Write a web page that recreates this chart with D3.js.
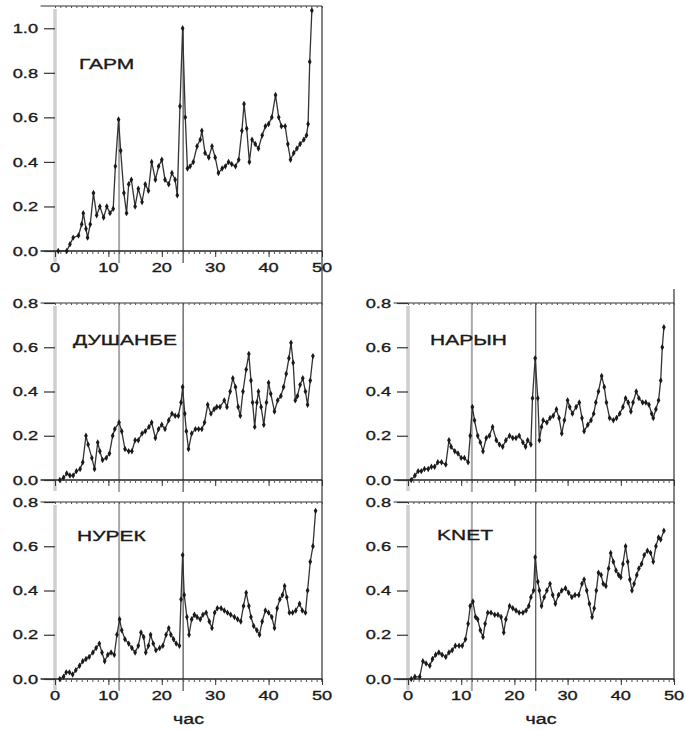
<!DOCTYPE html>
<html>
<head>
<meta charset="utf-8">
<script src="https://cdn.jsdelivr.net/npm/d3@7"></script>
<style>
  html, body { margin: 0; padding: 0; background: #fff; }
  svg { display: block; }
  text { font-family: "Liberation Sans", Arial, sans-serif; fill: #1a1a1a; stroke: #1a1a1a; stroke-width: 0.35px; }
</style>
</head>
<body>
<svg id="chart" width="685" height="731"></svg>
<script>
// Hourly amplitude series per station: [hour, value]
const garm = [[0.6,0],[2.2,0],[2.8,0.03],[3.4,0.06],[4.4,0.07],[5.0,0.12],[5.3,0.17],[5.8,0.10],[6.1,0.06],[6.6,0.12],
  [7.2,0.26],[7.8,0.16],[8.4,0.20],[9.1,0.15],[9.7,0.20],[10.3,0.17],[10.9,0.19],[11.3,0.38],[11.9,0.59],[12.3,0.45],
  [12.9,0.26],[13.4,0.17],[13.8,0.30],[14.3,0.32],[15.0,0.20],[15.6,0.28],[16.3,0.22],[16.9,0.30],[17.5,0.27],[18.1,0.40],
  [18.8,0.32],[19.4,0.38],[20.0,0.41],[20.6,0.32],[21.3,0.30],[21.9,0.35],[22.5,0.32],[22.9,0.25],[23.4,0.65],[23.9,1.00],
  [24.4,0.60],[24.8,0.37],[25.3,0.38],[25.9,0.40],[26.6,0.47],[27.2,0.50],[27.5,0.54],[28.1,0.44],[28.8,0.42],[29.4,0.47],
  [30.0,0.42],[30.6,0.35],[31.3,0.37],[31.9,0.38],[32.5,0.40],[33.1,0.39],[33.8,0.38],[34.4,0.41],[35.0,0.54],[35.4,0.66],
  [35.9,0.55],[36.4,0.40],[36.9,0.50],[37.5,0.48],[38.1,0.46],[38.8,0.52],[39.4,0.56],[40.0,0.57],[40.6,0.60],[41.3,0.70],
  [41.9,0.60],[42.4,0.56],[43.1,0.56],[43.6,0.48],[44.1,0.41],[44.7,0.44],[45.3,0.46],[45.9,0.48],[46.6,0.50],[47.1,0.52],
  [47.4,0.57],[47.7,0.85],[48.1,1.08]];

const dushanbe = [[0.9,0.00],[1.6,0.01],[2.2,0.03],[2.8,0.02],[3.4,0.02],[4.0,0.04],[4.7,0.05],[5.2,0.08],[5.8,0.20],[6.2,0.16],
  [6.9,0.10],[7.4,0.05],[8.0,0.17],[8.4,0.13],[8.9,0.09],[9.6,0.10],[10.2,0.12],[10.8,0.20],[11.2,0.23],[12.0,0.26],
  [12.5,0.22],[13.1,0.14],[13.8,0.13],[14.4,0.13],[15.0,0.18],[15.6,0.18],[16.3,0.21],[16.9,0.22],[17.6,0.24],[18.1,0.26],
  [18.8,0.19],[19.4,0.23],[20.0,0.25],[20.6,0.23],[21.3,0.27],[21.9,0.30],[22.5,0.29],[23.1,0.29],[23.6,0.35],[23.9,0.42],
  [24.3,0.30],[24.6,0.22],[25.0,0.14],[25.6,0.21],[26.3,0.23],[26.9,0.23],[27.5,0.23],[28.0,0.26],[28.6,0.34],[29.2,0.30],
  [29.8,0.32],[30.3,0.33],[30.9,0.33],[31.7,0.36],[32.2,0.33],[32.8,0.40],[33.3,0.46],[33.8,0.42],[34.3,0.33],[34.7,0.29],
  [35.2,0.40],[35.8,0.50],[36.3,0.57],[36.7,0.45],[37.0,0.35],[37.4,0.24],[37.8,0.35],[38.1,0.40],[38.6,0.33],[39.1,0.25],
  [39.6,0.35],[40.0,0.44],[40.4,0.39],[41.1,0.31],[41.7,0.36],[42.3,0.38],[42.8,0.42],[43.3,0.48],[43.8,0.55],[44.2,0.62],
  [44.6,0.53],[45.0,0.36],[45.4,0.38],[45.9,0.43],[46.4,0.46],[46.9,0.40],[47.3,0.34],[47.8,0.45],[48.3,0.56]];

const naryn = [[0.6,0.00],[1.3,0.02],[1.9,0.04],[2.5,0.04],[3.1,0.05],[3.8,0.05],[4.4,0.06],[5.0,0.06],[5.6,0.08],[6.3,0.08],
  [7.1,0.07],[7.7,0.18],[8.1,0.15],[8.8,0.13],[9.4,0.12],[10.0,0.10],[10.6,0.10],[11.3,0.08],[11.7,0.20],[12.1,0.33],
  [12.5,0.27],[13.1,0.20],[13.6,0.17],[14.1,0.13],[14.7,0.19],[15.3,0.20],[15.9,0.24],[16.6,0.18],[17.2,0.16],[17.8,0.15],
  [18.4,0.18],[19.1,0.20],[19.7,0.19],[20.3,0.19],[20.9,0.20],[21.6,0.17],[22.1,0.15],[22.5,0.18],[23.1,0.16],[23.4,0.37],
  [23.9,0.55],[24.4,0.37],[24.7,0.18],[25.1,0.24],[25.4,0.27],[26.1,0.26],[26.7,0.28],[27.3,0.29],[27.9,0.32],[28.4,0.28],
  [28.9,0.21],[29.4,0.27],[30.0,0.36],[30.4,0.33],[30.9,0.30],[31.6,0.33],[32.2,0.35],[32.7,0.28],[33.1,0.22],[33.8,0.25],
  [34.4,0.27],[34.9,0.30],[35.3,0.35],[35.8,0.40],[36.4,0.47],[36.9,0.42],[37.3,0.35],[37.9,0.28],[38.6,0.27],[39.2,0.28],
  [39.8,0.30],[40.4,0.33],[40.9,0.37],[41.4,0.35],[41.9,0.31],[42.3,0.35],[42.9,0.40],[43.4,0.37],[44.1,0.35],[44.7,0.35],
  [45.3,0.34],[45.8,0.30],[46.1,0.28],[46.6,0.32],[47.1,0.36],[47.5,0.45],[47.8,0.60],[48.1,0.69]];

const nurek = [[0.9,0.00],[1.6,0.01],[2.1,0.03],[2.7,0.03],[3.3,0.02],[3.9,0.04],[4.6,0.06],[5.2,0.08],[5.8,0.09],[6.4,0.10],
  [7.1,0.12],[7.7,0.14],[8.3,0.16],[8.8,0.12],[9.3,0.08],[9.9,0.11],[10.5,0.12],[11.1,0.11],[11.6,0.20],[12.1,0.27],
  [12.5,0.22],[13.1,0.18],[13.8,0.16],[14.4,0.14],[15.0,0.12],[15.6,0.15],[16.1,0.21],[16.6,0.19],[17.0,0.12],[17.5,0.15],
  [17.9,0.20],[18.4,0.16],[18.9,0.13],[19.6,0.14],[20.2,0.15],[20.8,0.20],[21.3,0.23],[21.7,0.20],[22.2,0.18],[22.7,0.16],
  [23.3,0.15],[23.6,0.36],[23.9,0.56],[24.2,0.38],[24.7,0.28],[25.1,0.20],[25.6,0.27],[26.1,0.29],[26.6,0.28],[27.2,0.27],
  [27.7,0.29],[28.3,0.30],[28.9,0.26],[29.4,0.23],[29.9,0.30],[30.4,0.32],[31.1,0.32],[31.7,0.31],[32.3,0.30],[32.9,0.29],
  [33.6,0.28],[34.2,0.27],[34.8,0.26],[35.3,0.33],[35.8,0.39],[36.3,0.33],[36.7,0.28],[37.2,0.24],[37.8,0.22],[38.3,0.20],
  [38.8,0.26],[39.4,0.31],[40.0,0.30],[40.6,0.28],[41.1,0.23],[41.6,0.32],[42.1,0.36],[42.6,0.38],[43.0,0.42],[43.4,0.37],
  [43.9,0.30],[44.5,0.30],[45.1,0.31],[45.8,0.34],[46.3,0.31],[46.9,0.30],[47.3,0.40],[47.8,0.53],[48.3,0.60],[48.8,0.76]];

const knet = [[0.6,0.00],[1.3,0.01],[2.2,0.01],[2.8,0.08],[3.4,0.07],[4.1,0.06],[4.6,0.09],[5.2,0.11],[5.8,0.12],[6.4,0.11],
  [7.1,0.10],[7.7,0.12],[8.3,0.13],[8.9,0.15],[9.6,0.15],[10.2,0.15],[10.8,0.18],[11.3,0.25],[11.7,0.33],[12.2,0.35],
  [12.7,0.28],[13.1,0.27],[13.6,0.22],[14.1,0.19],[14.5,0.25],[15.0,0.30],[15.6,0.30],[16.3,0.29],[16.9,0.29],[17.5,0.28],
  [18.0,0.21],[18.4,0.27],[19.1,0.33],[19.7,0.32],[20.3,0.31],[20.9,0.30],[21.6,0.30],[22.2,0.31],[22.7,0.33],[23.1,0.37],
  [23.6,0.40],[23.9,0.55],[24.4,0.44],[24.7,0.40],[25.1,0.33],[25.6,0.37],[26.1,0.40],[26.7,0.43],[27.2,0.38],[27.7,0.34],
  [28.3,0.38],[28.9,0.40],[29.6,0.41],[30.2,0.39],[30.8,0.37],[31.4,0.38],[32.1,0.38],[32.7,0.43],[33.1,0.45],[33.6,0.40],
  [34.1,0.34],[34.6,0.28],[35.0,0.32],[35.4,0.40],[35.8,0.48],[36.3,0.47],[36.7,0.43],[37.2,0.42],[37.7,0.50],[38.1,0.57],
  [38.6,0.53],[39.1,0.49],[39.6,0.47],[40.0,0.46],[40.4,0.52],[40.9,0.60],[41.3,0.53],[41.7,0.45],[42.1,0.40],[42.5,0.43],
  [43.0,0.47],[43.4,0.50],[43.9,0.52],[44.4,0.56],[45.0,0.58],[45.6,0.57],[46.1,0.53],[46.6,0.60],[47.1,0.64],[47.5,0.63],
  [48.1,0.67]];

// Axis ticks and labels
const xTickValues = [0, 10, 20, 30, 40, 50];
const yTicksTall = [0, 0.2, 0.4, 0.6, 0.8, 1.0];
const yTicksShort = [0, 0.2, 0.4, 0.6, 0.8];
const markerHours = [12, 24];
const xTitle = "час";

// Panel layout: column pixel extents and vertical placement
const columns = [
  { x0: 55,  x50: 322 },
  { x0: 408, x50: 674 }
];

const panels = [
  { name: "ГАРМ",    data: garm,     col: 0, top: 6,   bottom: 251, yMax: 1.1, yTicks: yTicksTall,  xLabels: true,  title: false, lx: 24, ly: 68.5, markersToData: true },
  { name: "ДУШАНБЕ", data: dushanbe, col: 0, top: 303, bottom: 480, yMax: 0.8, yTicks: yTicksShort, xLabels: false, title: false, lx: 18, ly: 345 },
  { name: "НАРЫН",   data: naryn,    col: 1, top: 303, bottom: 480, yMax: 0.8, yTicks: yTicksShort, xLabels: false, title: false, lx: 22, ly: 345 },
  { name: "НУРЕК",   data: nurek,    col: 0, top: 502, bottom: 679, yMax: 0.8, yTicks: yTicksShort, xLabels: true,  title: true,  lx: 22, ly: 541 },
  { name: "KNET",    data: knet,     col: 1, top: 502, bottom: 679, yMax: 0.8, yTicks: yTicksShort, xLabels: true,  title: true,  lx: 29, ly: 540 }
];

const SX = 1.4; // horizontal stretch of the lettering
const svg = d3.select("#chart");
svg.append("rect").attr("width", 685).attr("height", 731).attr("fill", "#fff");

function label(g, x, y, str, size, anchor) {
  g.append("text")
    .attr("transform", `translate(${x},${y}) scale(${SX},1)`)
    .attr("text-anchor", anchor)
    .attr("font-size", size)
    .text(str);
}

// Right edges run continuously down each column
const colSpan = [
  { top: 6,   bottom: 682 },
  { top: 289, bottom: 682 }
];
columns.forEach((c, i) => {
  svg.append("line")
    .attr("x1", c.x50).attr("x2", c.x50)
    .attr("y1", colSpan[i].top).attr("y2", colSpan[i].bottom)
    .attr("stroke", "#333").attr("stroke-width", 1.2);
});

panels.forEach(p => {
  const c = columns[p.col];
  const x = d3.scaleLinear().domain([0, 50]).range([c.x0, c.x50]);
  const y = d3.scaleLinear().domain([0, p.yMax]).range([p.bottom, p.top]);
  const g = svg.append("g");
  const left = x(-2.7);

  // zero-hour reference line
  g.append("line")
    .attr("x1", x(0)).attr("x2", x(0))
    .attr("y1", p.top + 3).attr("y2", p.bottom + 11)
    .attr("stroke", "#cfcfcf").attr("stroke-width", 3.5);

  // 12 h and 24 h markers
  markerHours.forEach((h, i) => {
    let yTop = p.top;
    if (p.markersToData) {
      const near = p.data.filter(d => Math.abs(d[0] - h) < 0.8);
      yTop = y(d3.max(near, d => d[1]));
    }
    g.append("line")
      .attr("x1", x(h)).attr("x2", x(h))
      .attr("y1", yTop).attr("y2", p.bottom + 12)
      .attr("stroke", i === 0 ? "#a8a8a8" : "#666")
      .attr("stroke-width", i === 0 ? 2 : 1.4);
  });

  // top frame with inward ticks
  g.append("line")
    .attr("x1", left).attr("x2", c.x50)
    .attr("y1", p.top).attr("y2", p.top)
    .attr("stroke", "#333").attr("stroke-width", 1.2);
  const topAxis = d3.axisBottom(x).tickValues(d3.range(0, 51, 1)).tickSize(2).tickFormat("");
  g.append("g").attr("transform", `translate(0,${p.top})`).call(topAxis)
    .call(s => s.select(".domain").remove())
    .call(s => s.selectAll(".tick line").attr("stroke", "#555"));

  // bottom axis: minor and major ticks
  g.append("line")
    .attr("x1", left).attr("x2", c.x50)
    .attr("y1", p.bottom).attr("y2", p.bottom)
    .attr("stroke", "#222").attr("stroke-width", 1.3);
  const minorAxis = d3.axisBottom(x).tickValues(d3.range(0, 51, 1)).tickSize(3).tickFormat("");
  g.append("g").attr("transform", `translate(0,${p.bottom})`).call(minorAxis)
    .call(s => s.select(".domain").remove())
    .call(s => s.selectAll(".tick line").attr("stroke", "#555"));
  const majorAxis = d3.axisBottom(x).tickValues(xTickValues).tickSize(6).tickFormat("");
  g.append("g").attr("transform", `translate(0,${p.bottom})`).call(majorAxis)
    .call(s => s.select(".domain").remove())
    .call(s => s.selectAll(".tick line").attr("stroke", "#333"));

  if (p.xLabels) {
    xTickValues.forEach(v => label(g, x(v), p.bottom + 21, String(v), 13, "middle"));
  }
  if (p.title) {
    label(g, x(25), p.bottom + 45, xTitle, 14, "middle");
  }

  // y axis ticks and labels
  const yAxis = d3.axisLeft(y).tickValues(p.yTicks).tickSize(11).tickFormat("");
  g.append("g").attr("transform", `translate(${x(0)},0)`).call(yAxis)
    .call(s => s.select(".domain").remove())
    .call(s => s.selectAll(".tick line").attr("stroke", "#333").attr("stroke-width", 1.2));
  p.yTicks.forEach(v => label(g, x(0) - 17, y(v) + 4.7, d3.format(".1f")(v), 13, "end"));

  // station name
  label(g, x(0) + p.lx, p.ly, p.name, 15, "start");

  // data line with point markers
  const line = d3.line().x(d => x(d[0])).y(d => y(d[1]));
  g.append("path").datum(p.data)
    .attr("d", line)
    .attr("fill", "none").attr("stroke", "#333").attr("stroke-width", 1.3);
  g.selectAll("path.pt").data(p.data).join("path")
    .attr("class", "pt")
    .attr("transform", d => `translate(${x(d[0])},${y(d[1])})`)
    .attr("d", d3.symbol(d3.symbolDiamond, 12))
    .attr("fill", "#1a1a1a");
});
</script>
</body>
</html>
